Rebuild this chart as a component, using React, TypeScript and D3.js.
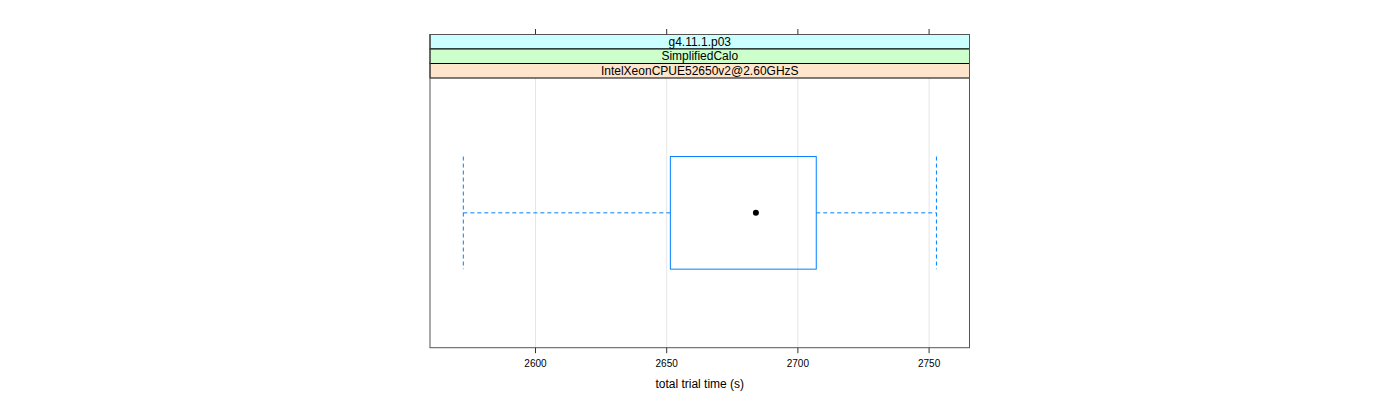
import React from "react";
import * as d3 from "d3";

const stripLabels = ["g4.11.1.p03", "SimplifiedCalo", "IntelXeonCPUE52650v2@2.60GHzS"];
const stripColors = ["#ccffff", "#ccffcc", "#ffe5cc"];
const categories = [""];
const lowerWhisker = [2572.5];
const q1 = [2651.4];
const median = [2684.0];
const q3 = [2707.0];
const upperWhisker = [2752.8];
const xTicks = [2600, 2650, 2700, 2750];
const xDomain = [2559.8, 2765.4];
const xTitle = "total trial time (s)";

export default function App() {
  const W = 1400, H = 400;
  const left = 430, right = 969.5;
  const top = 34.5, stripH = 14.5;
  const panelTop = top + stripH * 3;
  const bottom = 347.7;
  const x = d3.scaleLinear().domain(xDomain).range([left, right]);
  const y = d3.scaleBand().domain(categories).range([panelTop, bottom]).paddingInner(0).paddingOuter(0);
  const boxH = 112.6;
  const blue = "#0080ff";
  const font = "Liberation Sans, Arial, Helvetica, sans-serif";
  return (
    <svg width={W} height={H} style={{ position: "absolute", left: 0, top: 0 }}>
      <rect x={0} y={0} width={W} height={H} fill="white" />
      {xTicks.map((t) => (
        <line key={"g" + t} x1={x(t)} x2={x(t)} y1={panelTop} y2={bottom} stroke="#e6e6e6" strokeWidth={1} />
      ))}
      {categories.map((c, i) => {
        const cy = (y(c) as number) + y.bandwidth() / 2;
        const y0 = cy - boxH / 2, y1 = cy + boxH / 2;
        return (
          <g key={i}>
            <line x1={x(lowerWhisker[i])} x2={x(q1[i])} y1={cy} y2={cy} stroke={blue} strokeDasharray="4,3" />
            <line x1={x(q3[i])} x2={x(upperWhisker[i])} y1={cy} y2={cy} stroke={blue} strokeDasharray="4,3" />
            <line x1={x(lowerWhisker[i])} x2={x(lowerWhisker[i])} y1={y0} y2={y1} stroke={blue} strokeDasharray="4,3" />
            <line x1={x(upperWhisker[i])} x2={x(upperWhisker[i])} y1={y0} y2={y1} stroke={blue} strokeDasharray="4,3" />
            <rect x={x(q1[i])} y={y0} width={x(q3[i]) - x(q1[i])} height={boxH} fill="none" stroke={blue} strokeWidth={1} />
            <circle cx={x(median[i])} cy={cy} r={3} fill="black" />
          </g>
        );
      })}
      {stripLabels.map((s, i) => (
        <g key={s}>
          <rect x={left} y={top + i * stripH} width={right - left} height={stripH} fill={stripColors[i]} stroke="black" strokeWidth={1} />
          <text x={(left + right) / 2} y={top + i * stripH + stripH / 2 + 4} textAnchor="middle" fontFamily={font} fontSize={12} fill="#000">
            {s}
          </text>
        </g>
      ))}
      <rect x={left} y={top} width={right - left} height={bottom - top} fill="none" stroke="#555" strokeWidth={1} />
      {xTicks.map((t) => (
        <g key={"t" + t}>
          <line x1={x(t)} x2={x(t)} y1={top - 5.5} y2={top} stroke="#333" />
          <line x1={x(t)} x2={x(t)} y1={bottom} y2={bottom + 5.5} stroke="#333" />
          <text x={x(t)} y={bottom + 19} textAnchor="middle" fontFamily={font} fontSize={10} fill="#000">
            {t}
          </text>
        </g>
      ))}
      <text x={(left + right) / 2} y={388} textAnchor="middle" fontFamily={font} fontSize={12} fill="#000">
        {xTitle}
      </text>
    </svg>
  );
}
